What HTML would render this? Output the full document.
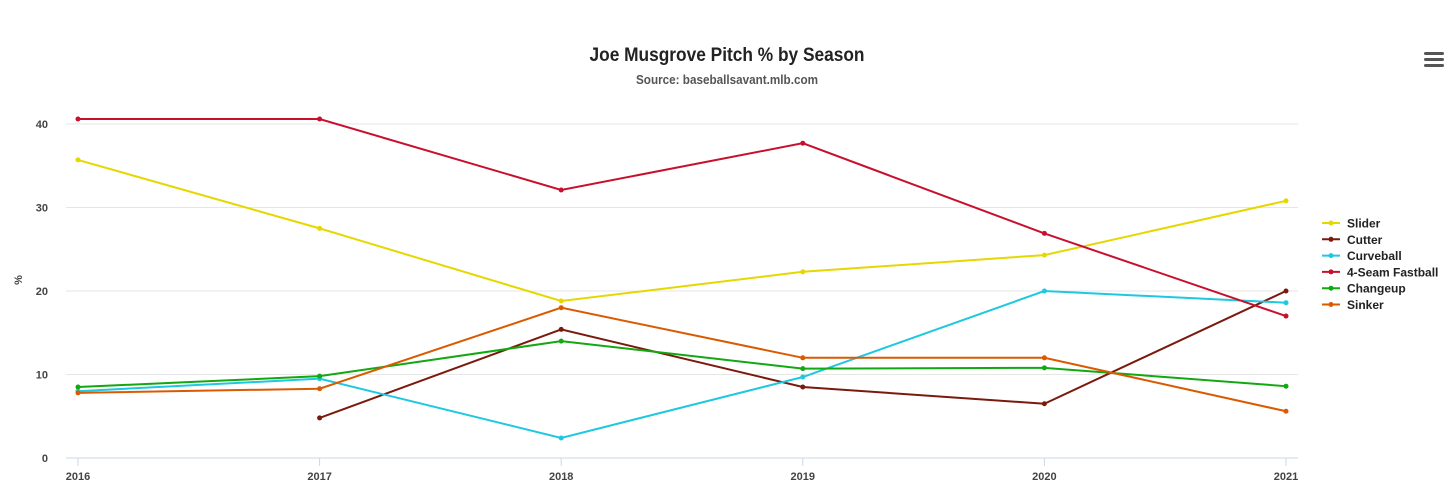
<!DOCTYPE html>
<html><head><meta charset="utf-8"><style>
body{margin:0;background:#fff;width:1456px;height:497px;overflow:hidden;font-family:"Liberation Sans Narrow","Liberation Sans",sans-serif}
text{font-family:"Liberation Sans Narrow","Liberation Sans",sans-serif;font-weight:bold}
</style></head><body>
<svg id="chart" width="1456" height="497">
<text x="727" y="61" text-anchor="middle" font-size="19" fill="#222" textLength="275" lengthAdjust="spacingAndGlyphs">Joe Musgrove Pitch % by Season</text>
<text x="727" y="84" text-anchor="middle" font-size="13" fill="#555" textLength="182" lengthAdjust="spacingAndGlyphs">Source: baseballsavant.mlb.com</text>
<g fill="#555">
<rect x="1424" y="52" width="20" height="3" rx="1.5"/><rect x="1424" y="58" width="20" height="3" rx="1.5"/><rect x="1424" y="64" width="20" height="3" rx="1.5"/></g>
<text x="22" y="280" font-size="11" fill="#444" transform="rotate(-90 22 280)" text-anchor="middle">%</text>
<g id="grid"></g><g id="series"></g><g id="legend"></g>
</svg>
<script>
const years=[2016,2017,2018,2019,2020,2021];
const yTicks=[0,10,20,30,40];
const names=["Slider","Cutter","Curveball","4-Seam Fastball","Changeup","Sinker"];
const colors=["#e5d800","#7a1a0c","#1ec8e0","#c8102e","#12a812","#d95a00"];
const slider=[35.7,27.5,18.8,22.3,24.3,30.8];
const cutter=[null,4.8,15.4,8.5,6.5,20.0];
const curveball=[8.0,9.5,2.4,9.7,20.0,18.6];
const fastball=[40.6,40.6,32.1,37.7,26.9,17.0];
const changeup=[8.5,9.8,14.0,10.7,10.8,8.6];
const sinker=[7.8,8.3,18.0,12.0,12.0,5.6];
const seriesData=[slider,cutter,curveball,fastball,changeup,sinker];
const NS="http://www.w3.org/2000/svg";
const x0=78,x1=1286,y0=458,yTop=124;
const xS=i=>x0+(x1-x0)*i/(years.length-1);
const yS=v=>y0-(y0-yTop)*v/40;
function mk(t,a,p){const e=document.createElementNS(NS,t);for(const k in a)e.setAttribute(k,a[k]);p.appendChild(e);return e;}
const grid=document.getElementById('grid');
yTicks.forEach(t=>{
  const l=mk('line',{x1:66,x2:1298,y1:yS(t),y2:yS(t),stroke:t===0?'#ccd6eb':'#e6e6e6'},grid);
  
  
  const tx=mk('text',{x:48,y:yS(t)+4,'text-anchor':'end','font-size':11,fill:'#444'},grid);
  tx.textContent=t;
  
  
});
years.forEach((y,i)=>{
  const tk=mk('line',{x1:xS(i),x2:xS(i),y1:y0,y2:y0+8,stroke:'#ccd6eb'},grid);
  
  
  const tx=mk('text',{x:xS(i),y:480,'text-anchor':'middle','font-size':11,fill:'#444'},grid);
  tx.textContent=y;
  
  
});
const sg=document.getElementById('series');
seriesData.forEach((d,s)=>{
  let pts=[];d.forEach((v,i)=>{if(v!==null)pts.push([xS(i),yS(v)]);});
  const p=mk('polyline',{points:pts.map(q=>q.join(',')).join(' '),fill:'none',stroke:colors[s],'stroke-width':2},sg);
  
  
  pts.forEach(q=>{
    const c=mk('circle',{cx:q[0],cy:q[1],r:2.5,fill:colors[s]},sg);
    
    
  });
});
const lg=document.getElementById('legend');
names.forEach((n,i)=>{
  const y=223+i*16.3;
  const g=mk('g',{},lg);
  
  
  mk('line',{x1:1322,x2:1340,y1:y,y2:y,stroke:colors[i],'stroke-width':2},g);
  mk('circle',{cx:1331,cy:y,r:2.5,fill:colors[i]},g);
  const t=mk('text',{x:1347,y:y+4.5,'font-size':12,fill:'#222'},g);
  t.textContent=n;
});
</script>
</body></html>
